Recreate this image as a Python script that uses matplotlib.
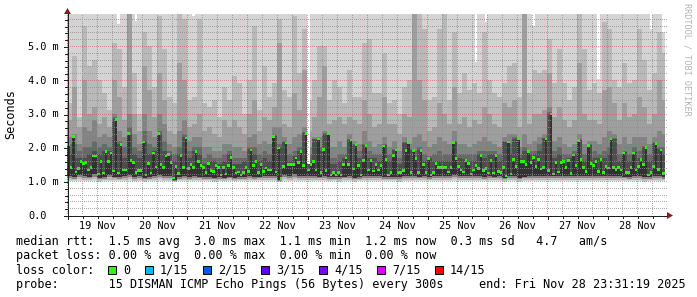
import numpy as np
import matplotlib
matplotlib.use("Agg")
import matplotlib.pyplot as plt
from matplotlib.patches import Polygon, Rectangle
from matplotlib.lines import Line2D
from datetime import datetime

# ------------------------------------------------------------------ data
start_time = datetime(2025, 11, 18, 23, 52)     # left edge of the graph
bin_hours = 1.0                                  # one consolidated point per hour

day_labels = ["19 Nov", "20 Nov", "21 Nov", "22 Nov", "23 Nov",
              "24 Nov", "25 Nov", "26 Nov", "27 Nov", "28 Nov"]
day_dates = [datetime(2025, 11, d) for d in range(19, 29)]

y_ticks = [0.0, 1.0, 2.0, 3.0, 4.0, 5.0]
y_tick_labels = ["0.0", "1.0 m", "2.0 m", "3.0 m", "4.0 m", "5.0 m"]

# median rtt (ms), one value per hour
median_rtt = [
    2.08, 1.41, 2.33, 1.27, 1.38, 1.59, 1.52, 1.56, 1.33, 1.40, 1.75, 1.75, 1.21, 1.58, 1.24, 1.87, 1.58, 1.84, 1.30, 2.83,
    1.24, 2.09, 1.33, 1.33, 2.41, 1.61, 1.55, 1.25, 1.31, 1.31, 2.16, 1.18, 1.52, 1.24, 1.84, 1.42, 2.41, 1.50, 1.40, 1.75,
    1.79, 1.56, 1.09, 1.44, 1.23, 1.76, 1.41, 2.28, 1.38, 1.49, 1.41, 1.87, 1.58, 1.47, 1.40, 1.25, 1.52, 1.31, 1.28, 1.47,
    1.40, 1.18, 1.41, 1.21, 1.47, 1.70, 1.40, 1.24, 1.27, 1.18, 1.25, 1.40, 1.28, 1.92, 1.47, 1.58, 1.25, 1.50, 1.28, 1.39,
    1.33, 1.33, 2.33, 1.27, 1.98, 1.08, 1.44, 2.13, 1.50, 1.50, 1.50, 1.69, 1.56, 1.87, 1.47, 2.41, 1.33, 1.50, 1.58, 1.33,
    2.25, 1.25, 1.94, 1.31, 2.41, 1.18, 1.25, 1.18, 1.25, 1.18, 1.50, 1.69, 1.50, 2.22, 1.36, 2.08, 1.47, 1.18, 1.61, 2.05,
    1.33, 1.62, 1.30, 1.50, 1.33, 1.47, 2.04, 1.64, 1.18, 1.25, 1.76, 1.92, 1.25, 1.25, 1.31, 1.90, 2.13, 1.25, 1.91, 1.68,
    1.25, 1.91, 1.50, 1.25, 1.67, 1.18, 1.25, 1.52, 1.41, 1.41, 1.41, 1.41, 1.27, 1.41, 2.15, 1.67, 1.44, 1.33, 1.27, 1.62,
    1.53, 1.21, 1.33, 1.47, 1.37, 1.76, 1.31, 1.37, 1.24, 1.62, 1.24, 1.76, 1.29, 1.25, 1.41, 1.15, 2.16, 1.21, 1.65, 1.44,
    2.25, 1.58, 1.58, 1.50, 1.87, 1.56, 1.70, 1.44, 1.65, 1.36, 1.41, 2.25, 1.31, 2.99, 1.21, 1.56, 1.27, 1.56, 1.58, 1.40,
    1.62, 1.23, 1.78, 1.47, 2.21, 1.64, 1.41, 1.28, 2.05, 1.52, 1.47, 1.58, 1.28, 1.65, 1.25, 1.44, 1.39, 2.25, 1.40, 1.35,
    1.40, 1.33, 1.84, 1.25, 1.25, 1.41, 1.84, 1.33, 1.44, 1.64, 1.50, 2.00, 1.18, 1.25, 1.44, 2.12, 1.34, 1.92, 1.23,
]

# highest ping of each hour (ms) - most are above the top of the graph
rtt_max = [
    6.0, 6.0, 6.0, 6.0, 6.0, 6.0, 6.0, 6.0, 6.0, 6.0, 6.0, 6.0, 6.0, 6.0, 6.0, 6.0, 6.0, 6.0, 6.0, 6.0,
    5.66, 6.0, 6.0, 6.0, 6.0, 6.0, 6.0, 5.75, 6.0, 6.0, 6.0, 6.0, 6.0, 6.0, 6.0, 6.0, 6.0, 6.0, 6.0, 6.0,
    6.0, 6.0, 6.0, 6.0, 6.0, 6.0, 6.0, 6.0, 6.0, 6.0, 5.88, 6.0, 6.0, 6.0, 6.0, 6.0, 6.0, 6.0, 6.0, 6.0,
    6.0, 6.0, 6.0, 6.0, 6.0, 6.0, 6.0, 6.0, 6.0, 6.0, 6.0, 6.0, 6.0, 6.0, 6.0, 6.0, 6.0, 6.0, 6.0, 6.0,
    6.0, 6.0, 6.0, 6.0, 6.0, 6.0, 6.0, 6.0, 6.0, 6.0, 6.0, 6.0, 6.0, 6.0, 6.0, 6.0, 1.50, 6.0, 6.0, 6.0,
    6.0, 6.0, 6.0, 6.0, 6.0, 6.0, 6.0, 6.0, 6.0, 6.0, 6.0, 6.0, 6.0, 6.0, 6.0, 6.0, 6.0, 6.0, 6.0, 6.0,
    6.0, 6.0, 6.0, 6.0, 6.0, 6.0, 6.0, 6.0, 6.0, 6.0, 6.0, 6.0, 6.0, 6.0, 6.0, 6.0, 6.0, 6.0, 6.0, 6.0,
    6.0, 6.0, 6.0, 6.0, 6.0, 6.0, 6.0, 6.0, 6.0, 6.0, 6.0, 6.0, 6.0, 6.0, 6.0, 6.0, 6.0, 6.0, 6.0, 6.0,
    6.0, 6.0, 6.0, 4.52, 6.0, 6.0, 6.0, 5.70, 6.0, 6.0, 6.0, 6.0, 6.0, 6.0, 6.0, 6.0, 6.0, 6.0, 6.0, 6.0,
    6.0, 6.0, 6.0, 6.0, 6.0, 6.0, 5.58, 6.0, 6.0, 6.0, 6.0, 6.0, 6.0, 6.0, 6.0, 6.0, 6.0, 6.0, 6.0, 6.0,
    6.0, 6.0, 6.0, 6.0, 6.0, 6.0, 6.0, 6.0, 6.0, 6.0, 6.0, 6.0, 4.03, 6.0, 6.0, 6.0, 6.0, 6.0, 6.0, 6.0,
    6.0, 6.0, 6.0, 6.0, 6.0, 6.0, 6.0, 6.0, 6.0, 6.0, 6.0, 6.0, 6.0, 5.50, 6.0, 6.0, 6.0, 6.0, 5.40,
]

# smoke band edges (ms), one value per two hours
smoke_p14 = [
    3.3, 4.7, 2.9, 5.6, 4.4, 4.6, 4.0, 3.6, 3.1, 5.1, 4.9, 3.8, 5.95, 4.2, 3.0, 5.4, 5.0, 3.8, 5.9, 4.9,
    3.5, 3.3, 5.95, 5.8, 3.4, 3.5, 5.8, 3.3, 3.2, 3.4, 2.9, 3.8, 3.4, 4.1, 3.9, 3.0, 4.0, 5.6, 3.1, 4.4,
    3.5, 3.9, 5.8, 3.7, 3.5, 5.9, 4.2, 5.5, 3.4, 4.0, 5.0, 5.0, 3.4, 4.0, 3.8, 3.3, 4.3, 3.5, 3.5, 5.1,
    5.2, 3.6, 3.6, 4.8, 3.3, 3.4, 3.0, 3.8, 4.0, 5.95, 5.95, 5.5, 3.4, 3.5, 5.5, 5.95, 3.4, 5.4, 3.6, 4.2,
    3.7, 3.9, 3.6, 5.4, 4.0, 3.6, 3.5, 3.9, 4.4, 4.5, 3.5, 5.95, 3.6, 4.3, 4.2, 4.3, 5.2, 3.9, 4.9, 3.9,
    3.4, 3.8, 5.95, 4.9, 3.7, 3.9, 3.6, 5.7, 5.5, 4.0, 3.8, 4.5, 3.9, 4.0, 5.5, 4.6, 3.7, 4.2, 5.4, 4.8,
]
smoke_p13 = [
    2.8, 3.8, 2.6, 4.0, 3.0, 3.2, 2.7, 2.9, 2.6, 4.0, 3.5, 2.8, 5.95, 3.0, 2.5, 4.4, 3.7, 2.9, 4.2, 3.4,
    2.5, 2.4, 4.5, 4.0, 2.6, 2.7, 3.0, 2.5, 2.6, 2.4, 2.3, 2.8, 2.6, 2.8, 2.6, 2.4, 3.0, 3.4, 2.5, 2.9,
    2.8, 3.2, 5.1, 2.7, 2.6, 3.6, 3.1, 4.3, 2.5, 2.9, 3.5, 4.4, 2.7, 2.8, 2.9, 2.7, 2.9, 2.8, 2.7, 3.4,
    3.0, 2.6, 2.7, 3.5, 2.7, 2.7, 2.4, 3.0, 2.9, 5.95, 4.0, 3.4, 2.5, 2.6, 3.3, 3.0, 2.7, 3.8, 2.7, 2.9,
    2.6, 2.8, 2.7, 3.2, 3.0, 2.7, 2.6, 3.3, 3.2, 3.4, 2.6, 5.95, 2.7, 3.0, 3.0, 3.1, 4.2, 2.9, 3.2, 2.8,
    2.6, 2.8, 4.5, 3.0, 2.8, 2.8, 2.7, 3.7, 3.8, 3.3, 2.8, 3.3, 2.9, 3.0, 3.5, 3.2, 2.7, 3.0, 4.0, 3.4,
]
smoke_p12 = [
    2.3, 2.4, 2.1, 2.6, 2.5, 2.8, 2.3, 2.4, 2.3, 3.0, 2.5, 2.3, 3.0, 2.4, 2.1, 3.0, 2.5, 2.3, 3.0, 2.7,
    2.1, 2.0, 2.5, 2.8, 2.2, 2.3, 2.3, 2.0, 2.0, 1.9, 1.9, 2.1, 2.1, 2.0, 2.0, 1.9, 2.3, 2.4, 2.1, 2.2,
    2.1, 2.6, 2.6, 2.3, 2.1, 2.3, 2.4, 2.6, 2.0, 2.3, 2.3, 2.5, 2.0, 2.0, 2.2, 2.0, 2.4, 2.2, 2.1, 2.5,
    2.2, 2.0, 2.1, 2.3, 2.0, 2.2, 1.9, 2.3, 2.1, 2.3, 2.4, 2.2, 2.0, 2.1, 2.3, 2.2, 2.1, 2.5, 2.1, 2.1,
    2.0, 2.1, 2.2, 2.3, 2.2, 2.1, 2.0, 2.3, 2.4, 2.4, 2.0, 2.4, 2.1, 2.2, 2.3, 2.4, 3.2, 2.2, 2.3, 2.1,
    2.0, 2.1, 2.4, 2.1, 2.2, 2.2, 2.1, 2.3, 2.5, 2.4, 2.1, 2.3, 2.1, 2.3, 2.3, 2.3, 2.1, 2.3, 2.5, 2.4,
]
smoke_p11 = [
    2.1, 2.1, 1.9, 2.0, 2.0, 2.2, 2.0, 2.1, 2.0, 2.9, 2.2, 2.0, 2.6, 2.0, 1.9, 2.5, 2.1, 2.0, 2.5, 2.2,
    1.9, 1.8, 2.0, 2.4, 1.9, 2.0, 2.0, 1.7, 1.8, 1.7, 1.7, 1.8, 1.9, 1.7, 1.7, 1.7, 2.0, 2.0, 1.8, 1.9,
    1.8, 2.4, 2.1, 2.2, 1.8, 1.9, 2.0, 2.45, 1.8, 2.26, 2.0, 2.42, 1.7, 1.7, 1.8, 1.8, 2.25, 2.1, 1.9, 2.1,
    1.9, 1.8, 1.8, 2.1, 1.8, 1.95, 1.7, 2.15, 1.95, 1.9, 2.0, 1.8, 1.75, 1.8, 1.9, 1.8, 1.8, 2.2, 1.8, 1.8,
    1.8, 1.8, 1.9, 1.9, 1.9, 1.9, 1.8, 2.2, 2.1, 2.3, 1.8, 2.0, 1.9, 1.9, 2.1, 2.28, 3.05, 1.9, 2.0, 1.8,
    1.8, 1.9, 2.25, 1.8, 2.1, 1.9, 1.8, 1.9, 2.0, 2.27, 1.8, 1.9, 1.8, 2.0, 1.9, 2.05, 1.8, 2.15, 2.0, 2.0,
]
smoke_p10 = [
    1.8, 1.7, 1.7, 1.7, 1.8, 1.9, 1.8, 1.9, 1.9, 2.85, 2.1, 1.7, 2.4, 1.8, 1.7, 2.2, 1.8, 1.9, 2.4, 1.9,
    1.8, 1.6, 1.8, 2.3, 1.7, 1.9, 1.8, 1.5, 1.6, 1.6, 1.5, 1.6, 1.8, 1.5, 1.5, 1.6, 1.95, 1.8, 1.6, 1.7,
    1.6, 2.35, 2.0, 2.15, 1.6, 1.75, 1.9, 2.42, 1.6, 2.25, 1.9, 2.41, 1.5, 1.5, 1.6, 1.7, 2.22, 2.08, 1.7, 2.06,
    1.7, 1.7, 1.6, 2.06, 1.6, 1.93, 1.5, 2.14, 1.93, 1.7, 1.93, 1.6, 1.69, 1.6, 1.6, 1.6, 1.6, 2.16, 1.7, 1.65,
    1.6, 1.6, 1.8, 1.7, 1.8, 1.8, 1.6, 2.17, 1.8, 2.26, 1.7, 1.9, 1.8, 1.8, 1.9, 2.27, 3.0, 1.7, 1.8, 1.6,
    1.7, 1.8, 2.22, 1.6, 2.06, 1.7, 1.7, 1.7, 1.8, 2.26, 1.6, 1.85, 1.6, 1.85, 1.7, 2.02, 1.6, 2.13, 1.95, 1.8,
]
rtt_min = [
    1.0, 1.0, 1.01, 1.0, 1.0, 1.0, 0.99, 1.0, 1.0, 1.0, 1.0, 1.0, 1.01, 1.0, 1.0, 0.99, 1.0, 1.0, 1.0, 1.0,
    1.0, 0.99, 1.0, 1.0, 1.0, 1.0, 1.0, 1.0, 1.0, 0.99, 1.0, 1.0, 1.0, 1.0, 1.0, 1.0, 1.0, 1.0, 1.0, 1.0,
    1.0, 1.0, 0.99, 1.0, 1.0, 1.01, 1.0, 1.0, 1.0, 1.0, 1.0, 1.0, 1.0, 1.0, 0.99, 1.0, 1.0, 0.99, 1.0, 1.0,
    1.0, 1.0, 1.0, 1.0, 1.0, 1.0, 0.99, 1.0, 1.0, 1.0, 1.0, 1.0, 1.0, 1.0, 1.0, 1.0, 1.0, 1.01, 1.0, 1.0,
    1.0, 1.0, 1.0, 1.0, 1.0, 1.0, 1.0, 0.99, 1.0, 1.0, 0.99, 1.0, 1.0, 1.0, 1.0, 1.0, 1.0, 1.0, 1.0, 1.0,
    1.0, 1.0, 1.0, 1.0, 1.0, 1.0, 1.0, 1.0, 1.0, 1.0, 1.0, 1.0, 1.0, 1.0, 1.0, 0.99, 1.0, 1.0, 1.0, 1.0,
]
smoke_p2 = [
    1.04, 1.03, 1.06, 1.04, 1.03, 1.07, 1.02, 1.03, 1.05, 1.04, 1.03, 1.04, 1.06, 1.02, 1.04, 1.02, 1.03, 1.05, 1.06, 1.04,
    1.04, 1.01, 1.03, 1.04, 1.03, 1.04, 1.03, 1.03, 1.03, 1.02, 1.03, 1.02, 1.04, 1.02, 1.03, 1.03, 1.04, 1.03, 1.04, 1.04,
    1.04, 1.04, 1.01, 1.06, 1.05, 1.07, 1.05, 1.04, 1.04, 1.05, 1.03, 1.04, 1.02, 1.03, 1.02, 1.03, 1.04, 1.02, 1.03, 1.05,
    1.04, 1.05, 1.04, 1.03, 1.03, 1.03, 1.02, 1.04, 1.05, 1.04, 1.03, 1.04, 1.03, 1.04, 1.05, 1.04, 1.04, 1.06, 1.05, 1.04,
    1.04, 1.04, 1.04, 1.03, 1.04, 1.03, 1.04, 1.02, 1.04, 1.04, 1.02, 1.03, 1.05, 1.04, 1.05, 1.04, 1.04, 1.04, 1.05, 1.04,
    1.04, 1.05, 1.05, 1.04, 1.05, 1.04, 1.04, 1.04, 1.04, 1.04, 1.04, 1.03, 1.03, 1.04, 1.05, 1.02, 1.03, 1.04, 1.04, 1.03,
]
smoke_p4 = [
    1.09, 1.07, 1.12, 1.08, 1.08, 1.13, 1.06, 1.07, 1.11, 1.08, 1.07, 1.09, 1.12, 1.07, 1.09, 1.06, 1.07, 1.10, 1.12, 1.09,
    1.09, 1.02, 1.07, 1.09, 1.07, 1.08, 1.08, 1.07, 1.07, 1.06, 1.07, 1.06, 1.08, 1.06, 1.07, 1.07, 1.09, 1.07, 1.08, 1.09,
    1.09, 1.08, 1.02, 1.12, 1.10, 1.13, 1.10, 1.08, 1.09, 1.10, 1.08, 1.09, 1.06, 1.07, 1.06, 1.08, 1.09, 1.06, 1.07, 1.10,
    1.09, 1.10, 1.08, 1.07, 1.07, 1.07, 1.06, 1.08, 1.10, 1.08, 1.08, 1.09, 1.07, 1.08, 1.10, 1.09, 1.08, 1.12, 1.10, 1.09,
    1.08, 1.09, 1.08, 1.07, 1.08, 1.08, 1.09, 1.06, 1.08, 1.09, 1.06, 1.08, 1.10, 1.09, 1.10, 1.09, 1.08, 1.08, 1.10, 1.09,
    1.08, 1.10, 1.10, 1.08, 1.10, 1.09, 1.08, 1.08, 1.09, 1.08, 1.08, 1.08, 1.07, 1.09, 1.10, 1.06, 1.07, 1.09, 1.08, 1.07,
]
smoke_p6 = [
    1.15, 1.12, 1.18, 1.14, 1.13, 1.20, 1.10, 1.12, 1.18, 1.13, 1.12, 1.15, 1.18, 1.12, 1.14, 1.10, 1.12, 1.16, 1.18, 1.15,
    1.15, 1.04, 1.12, 1.15, 1.12, 1.14, 1.13, 1.12, 1.12, 1.10, 1.12, 1.10, 1.13, 1.10, 1.11, 1.12, 1.14, 1.12, 1.13, 1.15,
    1.15, 1.14, 1.04, 1.18, 1.16, 1.20, 1.16, 1.14, 1.15, 1.16, 1.13, 1.15, 1.11, 1.12, 1.11, 1.13, 1.15, 1.10, 1.12, 1.16,
    1.15, 1.16, 1.14, 1.12, 1.12, 1.12, 1.11, 1.14, 1.16, 1.14, 1.13, 1.15, 1.12, 1.14, 1.16, 1.15, 1.14, 1.18, 1.16, 1.15,
    1.14, 1.15, 1.14, 1.12, 1.14, 1.13, 1.15, 1.10, 1.14, 1.15, 1.10, 1.13, 1.16, 1.15, 1.16, 1.15, 1.14, 1.14, 1.16, 1.15,
    1.14, 1.16, 1.16, 1.14, 1.16, 1.15, 1.14, 1.14, 1.15, 1.14, 1.14, 1.13, 1.12, 1.15, 1.16, 1.11, 1.12, 1.15, 1.14, 1.13,
]

loss_labels = ["0", "1/15", "2/15", "3/15", "4/15", "7/15", "14/15"]
loss_colors = ["#26ff00", "#00b8ff", "#0059ff", "#5e00ff", "#7e00ff", "#dd00ff", "#ff0000"]

legend_rtt = "median rtt:  1.5 ms avg  3.0 ms max  1.1 ms min  1.2 ms now  0.3 ms sd   4.7   am/s"
legend_loss = "packet loss: 0.00 % avg  0.00 % max  0.00 % min  0.00 % now"
legend_color_title = "loss color:"
legend_probe = "probe:       15 DISMAN ICMP Echo Pings (56 Bytes) every 300s"
legend_end = "end: Fri Nov 28 23:31:19 2025"
y_title = "Seconds"
watermark = "RRDTOOL / TOBI OETIKER"

# ------------------------------------------------------------------ layout (pixels)
W, H = 697, 297
PL, PR, PT, PB = 67, 667, 14, 215
PX_PER_MS = 33.8
MONO = "DejaVu Sans Mono"

fig = plt.figure(figsize=(W / 100, H / 100), dpi=100)
fig.patch.set_facecolor("white")
ax = fig.add_axes([PL / W, 1 - PB / H, (PR - PL) / W, (PB - PT) / H])
n_hours_span = 240
ax.set_xlim(0, n_hours_span)
ax.set_ylim(0, (PB - PT) / PX_PER_MS)
ax.axis("off")
px_per_h = (PR - PL) / n_hours_span


def fx(x):
    return x / W


def fy(y):
    return 1 - y / H


# ------------------------------------------------------------------ smoke
med = np.asarray(median_rtt, float)
n = len(med)
edges = np.arange(n + 1) * bin_hours
top = np.asarray(rtt_max, float)


def per_hour(a):
    return np.repeat(np.asarray(a, float), 2)[:n]


def band(lo, hi, color, z):
    lo = np.asarray(lo, float)
    hi = np.minimum(np.asarray(hi, float), top)
    hi = np.maximum(hi, lo)
    ax.fill_between(edges, np.append(lo, lo[-1]), np.append(hi, hi[-1]),
                    step="post", color=color, linewidth=0, antialiased=False, zorder=z)


p1 = per_hour(rtt_min)
p2 = per_hour(smoke_p2)
p4 = per_hour(smoke_p4)
p6 = per_hour(smoke_p6)
band(p1, top, "#d4d4d4", 1)
band(p2, per_hour(smoke_p14), "#b9b9b9", 2)
band(p4, per_hour(smoke_p13), "#9e9e9e", 3)
band(p4, per_hour(smoke_p12), "#838383", 4)
band(p6, per_hour(smoke_p11), "#686868", 5)
band(p6, per_hour(smoke_p10), "#4d4d4d", 6)
band(np.minimum(p6, med), med, "#323232", 7)

# median markers (loss 0 -> green)
mh = 2.6 / PX_PER_MS
ax.bar(edges[:-1], mh, bottom=med - mh / 2, width=bin_hours, align="edge",
       color=loss_colors[0], linewidth=0, zorder=8)

# ------------------------------------------------------------------ grid (1px dotted overlay image)
grid_c = (0.56, 0.56, 0.56, 0.75)
mgrid_c = (0.87, 0.31, 0.31, 0.60)
ymax = (PB - PT) / PX_PER_MS
overlay = np.zeros((H, W, 4), float)


def hours_from_start(t):
    return (t - start_time).total_seconds() / 3600.0


cols_h = np.arange(PL + 1, PR + 1, 2)
for k in range(1, int(ymax / 0.2) + 1):
    v = k * 0.2
    row = int(round(PB - v * PX_PER_MS))
    overlay[row, cols_h] = mgrid_c if abs(v - round(v)) < 1e-6 else grid_c

rows_v = np.arange(PT + 1, PB, 2)
for d in day_dates:
    h0 = hours_from_start(d)
    for q in (6, 12, 18, 0):
        if h0 + q < n_hours_span:
            col = int(round(PL + (h0 + q) * px_per_h))
            overlay[rows_v, col] = mgrid_c if q == 0 else grid_c

fig.figimage(overlay, xo=0, yo=0, origin="upper", zorder=5)

# ------------------------------------------------------------------ axes lines, ticks, arrows
axis_c = (0.12, 0.12, 0.12)
arrow_c = (0.5, 0.12, 0.12)
fig.add_artist(Line2D([fx(64), fx(668)], [fy(215.5), fy(215.5)], color=axis_c, lw=0.72, zorder=6))
fig.add_artist(Line2D([fx(67.5), fx(67.5)], [fy(218), fy(12)], color=axis_c, lw=0.72, zorder=6))
fig.add_artist(Polygon([(fx(667), fy(212)), (fx(667), fy(219)), (fx(673), fy(215.5))],
                       closed=True, color=arrow_c, lw=0, zorder=6))
fig.add_artist(Polygon([(fx(64), fy(14)), (fx(71), fy(14)), (fx(67.5), fy(8))],
                       closed=True, color=arrow_c, lw=0, zorder=6))

# y ticks / labels
for k in range(0, int(ymax / 0.2) + 1):
    v = k * 0.2
    ypx = round(PB - v * PX_PER_MS) + 0.5
    major = abs(v - round(v)) < 1e-6
    fig.add_artist(Line2D([fx(64 if major else 65), fx(67)], [fy(ypx), fy(ypx)],
                          color=axis_c, lw=0.72, zorder=6))
for v, lab in zip(y_ticks, y_tick_labels):
    ypx = PB - v * PX_PER_MS
    fig.text(fx(28), fy(ypx + 3.7), lab, ha="left", va="baseline",
             fontsize=7.4, family=MONO, color="black")

# x ticks / labels
for d, lab in zip(day_dates, day_labels):
    h0 = hours_from_start(d)
    for q, ln in ((0, 3), (6, 2), (12, 2), (18, 2)):
        xp = round(PL + (h0 + q) * px_per_h) + 0.5
        if xp <= PR:
            fig.add_artist(Line2D([fx(xp), fx(xp)], [fy(216), fy(216 + ln)],
                                  color=axis_c, lw=0.72, zorder=6))
    xn = PL + (h0 + 12) * px_per_h
    fig.text(fx(xn), fy(229), lab, ha="center", va="baseline",
             fontsize=7.4, family=MONO, color="black")

# axis title and watermark
fig.text(fx(10.5), fy(114.5), y_title, rotation=90, ha="center", va="center",
         fontsize=8.45, family=MONO, color="black")
fig.text(fx(687.5), fy(59), watermark, rotation=270, ha="center", va="center",
         fontsize=6.1, family=MONO, color="#b2b2b2")

# ------------------------------------------------------------------ legend
LX = 16.4
fig.text(fx(LX), fy(245), legend_rtt, ha="left", va="baseline", fontsize=8.45, family=MONO)
fig.text(fx(LX), fy(259), legend_loss, ha="left", va="baseline", fontsize=8.45, family=MONO)
fig.text(fx(LX), fy(273.5), legend_color_title, ha="left", va="baseline", fontsize=8.45, family=MONO)
box_x = [108, 145, 203, 261, 319, 377, 435]
for bx, lab, col in zip(box_x, loss_labels, loss_colors):
    fig.add_artist(Rectangle((fx(bx), fy(273.5)), 8 / W, 8 / H, facecolor=col,
                             edgecolor="black", lw=0.72))
    fig.text(fx(bx + 15), fy(273.5), lab, ha="left", va="baseline", fontsize=8.45, family=MONO)
fig.text(fx(LX), fy(288), legend_probe, ha="left", va="baseline", fontsize=8.45, family=MONO)
fig.text(fx(479), fy(288), legend_end, ha="left", va="baseline", fontsize=8.45, family=MONO)

fig.savefig("out.png", dpi=100, facecolor="white")
